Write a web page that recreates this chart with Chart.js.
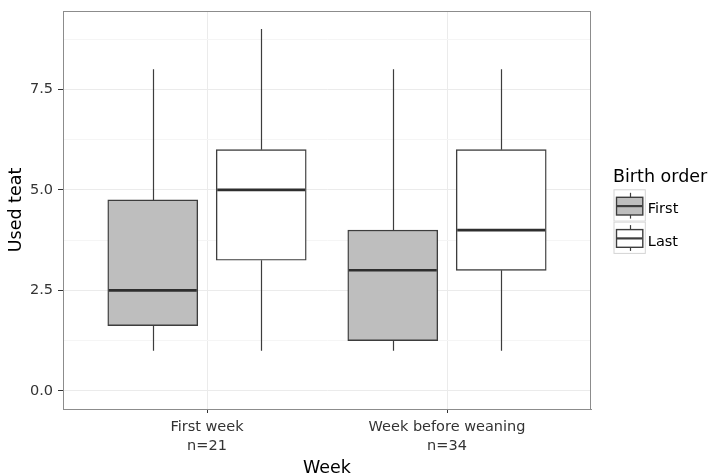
<!DOCTYPE html>
<html>
<head>
<meta charset="utf-8">
<script src="https://cdn.jsdelivr.net/npm/chart.js@4.4.1/dist/chart.umd.min.js"></script>
<style>
  html, body { margin: 0; padding: 0; background: #ffffff; }
  #wrap { width: 710px; height: 473px; position: relative; }
</style>
</head>
<body>
<div id="wrap"><canvas id="c" width="710" height="473"></canvas></div>
<script>
// Groups on the x axis and their sample sizes
const weeks = ['First week', 'Week before weaning'];
const sampleSizes = ['n=21', 'n=34'];
const groupNames = ['First', 'Last'];

// Five-number summaries per birth order group (one entry per week)
const firstMin    = [1, 1];
const firstQ1     = [1.625, 1.25];
const firstMedian = [2.5, 3];
const firstQ3     = [4.75, 4];
const firstMax    = [8, 8];

const lastMin     = [1, 1];
const lastQ1      = [3.25, 3];
const lastMedian  = [5, 4];
const lastQ3      = [6, 6];
const lastMax     = [9, 8];

const yTickValues = [0, 2.5, 5, 7.5];
const yMinorValues = [1.25, 3.75, 6.25, 8.75];

const FONT = "'DejaVu Sans', sans-serif";
const LINE = '#3d3d3d';
const fills = ['#bebebe', '#ffffff'];
const dodge = 0.226;   // horizontal offset of each box from its week position

function boxes(q1, q3, sign) {
  return weeks.map((w, i) => ({ x: i + 1 + sign * dodge, y: [q1[i], q3[i]] }));
}

const summaries = [
  { min: firstMin, q1: firstQ1, med: firstMedian, q3: firstQ3, max: firstMax },
  { min: lastMin, q1: lastQ1, med: lastMedian, q3: lastQ3, max: lastMax }
];

// Whiskers under the boxes, medians on top, plus the legend at the right
const boxplotParts = {
  id: 'boxplotParts',
  beforeDatasetsDraw(chart) {
    const { ctx, scales: { x, y } } = chart;
    ctx.save();
    ctx.strokeStyle = LINE;
    ctx.lineWidth = 1.2;
    summaries.forEach((s, d) => {
      const sign = d === 0 ? -1 : 1;
      weeks.forEach((w, i) => {
        const px = Math.round(x.getPixelForValue(i + 1 + sign * dodge)) + 0.5;
        ctx.beginPath();
        ctx.moveTo(px, y.getPixelForValue(s.max[i]));
        ctx.lineTo(px, y.getPixelForValue(s.q3[i]));
        ctx.moveTo(px, y.getPixelForValue(s.q1[i]));
        ctx.lineTo(px, y.getPixelForValue(s.min[i]));
        ctx.stroke();
      });
    });
    ctx.restore();
  },
  afterDatasetsDraw(chart) {
    const { ctx, scales: { y } } = chart;
    ctx.save();
    ctx.strokeStyle = '#2e2e2e';
    ctx.lineWidth = 2.6;
    summaries.forEach((s, d) => {
      const meta = chart.getDatasetMeta(d);
      meta.data.forEach((bar, i) => {
        const half = bar.width / 2;
        const py = y.getPixelForValue(s.med[i]);
        ctx.beginPath();
        ctx.moveTo(bar.x - half + 1, py);
        ctx.lineTo(bar.x + half - 1, py);
        ctx.stroke();
      });
    });
    ctx.restore();
  },
  afterDraw(chart) {
    const { ctx } = chart;
    ctx.save();
    // legend title
    ctx.fillStyle = '#000';
    ctx.font = "17.5px " + FONT;
    ctx.textBaseline = 'alphabetic';
    ctx.textAlign = 'left';
    ctx.fillText('Birth order', 613, 182);
    const kx = 613.5, ks = 32.3, top = 189.3;
    groupNames.forEach((name, k) => {
      const ky = top + k * ks;
      ctx.fillStyle = '#ffffff';
      ctx.fillRect(kx, ky, ks, ks);
      ctx.strokeStyle = '#d4d4d4';
      ctx.lineWidth = 1;
      ctx.strokeRect(kx + 0.5, ky + 0.5, ks - 1, ks - 1);
      const cx = Math.round(kx + ks / 2) + 0.5;
      // whisker
      ctx.strokeStyle = LINE;
      ctx.lineWidth = 1.2;
      ctx.beginPath();
      ctx.moveTo(cx, ky + 3.5); ctx.lineTo(cx, ky + ks - 3);
      ctx.stroke();
      // box and median
      ctx.fillStyle = fills[k];
      ctx.fillRect(kx + 3, ky + 8, ks - 6, 17.7);
      ctx.lineWidth = 1.4;
      ctx.strokeRect(kx + 3, ky + 8, ks - 6, 17.7);
      ctx.lineWidth = 2.2;
      ctx.beginPath();
      ctx.moveTo(kx + 3.5, ky + 16.8); ctx.lineTo(kx + ks - 3.5, ky + 16.8);
      ctx.stroke();
      ctx.fillStyle = '#000';
      ctx.font = "14.5px " + FONT;
      ctx.fillText(name, kx + ks + 2, ky + ks / 2 + 8);
    });
    ctx.restore();
  }
};

new Chart(document.getElementById('c'), {
  type: 'bar',
  data: {
    datasets: groupNames.map((name, d) => ({
      label: name,
      data: d === 0 ? boxes(firstQ1, firstQ3, -1) : boxes(lastQ1, lastQ3, 1),
      backgroundColor: fills[d],
      borderColor: LINE,
      borderWidth: 1.4,
      borderSkipped: false,
      barThickness: 90,
      grouped: false
    }))
  },
  options: {
    responsive: false,
    animation: false,
    devicePixelRatio: 1,
    layout: { padding: { top: 11, right: 119, left: 0, bottom: 0 } },
    plugins: { legend: { display: false }, tooltip: { enabled: false } },
    scales: {
      x: {
        type: 'linear',
        min: 0.4,
        max: 2.6,
        offset: false,
        afterBuildTicks(scale) { scale.ticks = weeks.map((w, i) => ({ value: i + 1 })); },
        afterFit(scale) { scale.height = 64; scale.paddingLeft = 0; scale.paddingRight = 0; },
        ticks: {
          autoSkip: false,
          maxRotation: 0,
          padding: 5,
          color: '#333',
          font: { family: FONT, size: 14.5, lineHeight: 1.31 },
          callback(v) { const i = Math.round(v) - 1; return [weeks[i], sampleSizes[i]]; }
        },
        grid: { offset: false, color: '#ebebeb', lineWidth: 1, tickColor: '#333', tickLength: 4 },
        border: { display: true, color: '#8c8c8c', width: 1 },
        title: { display: true, text: 'Week', color: '#000', font: { family: FONT, size: 17.5, lineHeight: 1.2 }, padding: { top: 0, bottom: -6 } }
      },
      y: {
        type: 'linear',
        min: -0.45,
        max: 9.45,
        afterBuildTicks(scale) {
          scale.ticks = yTickValues.concat(yMinorValues).sort((a, b) => a - b).map(v => ({ value: v }));
        },
        afterFit(scale) { scale.width = 63; scale.paddingTop = 0; scale.paddingBottom = 0; },
        ticks: {
          color: '#333',
          padding: 5,
          font: { family: FONT, size: 14.5 },
          callback(v) { return yTickValues.includes(v) ? v.toFixed(1) : ''; }
        },
        grid: {
          color: ctx => yTickValues.includes(ctx.tick && ctx.tick.value) ? '#ebebeb' : '#f5f5f5',
          tickColor: ctx => yTickValues.includes(ctx.tick && ctx.tick.value) ? '#333' : 'rgba(0,0,0,0)',
          tickLength: 5
        },
        border: { display: true, color: '#8c8c8c', width: 1 },
        title: { display: true, text: 'Used teat', color: '#000', font: { family: FONT, size: 17.5, lineHeight: 1.2 }, padding: { top: 6, bottom: 4 } }
      }
    }
  },
  plugins: [boxplotParts, {
    id: 'panelBorder',
    afterDraw(chart) {
      const { ctx, chartArea: a } = chart;
      ctx.save();
      ctx.strokeStyle = '#8c8c8c';
      ctx.lineWidth = 1;
      ctx.strokeRect(Math.round(a.left) + 0.5, Math.round(a.top) + 0.5, Math.round(a.right - a.left) - 1, Math.round(a.bottom - a.top));
      ctx.restore();
    }
  }]
});
</script>
</body>
</html>
